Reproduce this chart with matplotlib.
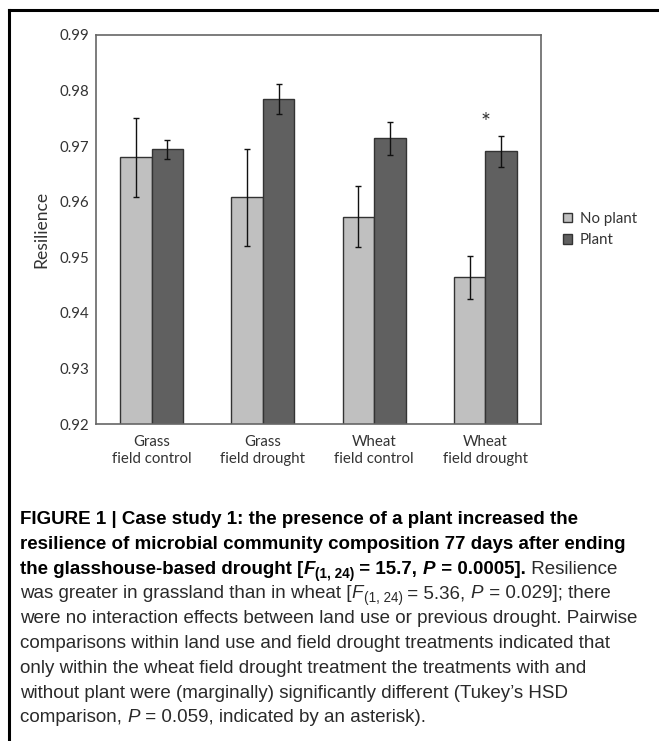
import matplotlib
matplotlib.use("Agg")
import matplotlib.pyplot as plt
import numpy as np
from matplotlib.lines import Line2D

# data
groups = ["Grass\nfield control", "Grass\nfield drought", "Wheat\nfield control", "Wheat\nfield drought"]
no_plant = [0.9680, 0.9608, 0.9573, 0.9464]
no_plant_err = [0.0071, 0.0087, 0.0055, 0.0039]
plant = [0.9694, 0.9784, 0.9714, 0.9691]
plant_err = [0.0017, 0.0027, 0.0030, 0.0028]
yticks = [0.92, 0.93, 0.94, 0.95, 0.96, 0.97, 0.98, 0.99]
star_group = 3
star_y = 0.9742

chart_font = "Lato"
cap_font = "Liberation Sans"

fig = plt.figure(figsize=(6.59, 7.41), dpi=100)
ax = fig.add_axes([0.1457, 0.4278, 0.6752, 0.525])

x = np.arange(len(groups))
w = 0.283
ekw = dict(ecolor="#111111", elinewidth=1, capsize=2.5, capthick=1)
ax.bar(x - w/2, no_plant, w, yerr=no_plant_err, color="#c0c0c0", edgecolor="#333333",
       linewidth=1, label="No plant", error_kw=ekw)
ax.bar(x + w/2, plant, w, yerr=plant_err, color="#606060", edgecolor="#333333",
       linewidth=1, label="Plant", error_kw=ekw)
ax.text(star_group, star_y, "*", ha="center", va="center", fontsize=17, family=chart_font, color="#333333")

ax.set_xlim(-0.5, 3.5)
ax.set_ylim(0.92, 0.99)
ax.set_yticks(yticks)
ax.set_yticklabels(["%.2f" % t for t in yticks], family=chart_font, fontsize=10.8, color="#333333")
ax.set_xticks(x)
ax.set_xticklabels(groups, family=chart_font, fontsize=10.8, color="#333333", linespacing=1.25)
ax.tick_params(length=0)
ax.tick_params(axis="y", pad=5)
ax.tick_params(axis="x", pad=8)
for s in ax.spines.values():
    s.set_color("#666666")
    s.set_linewidth(1.2)
ax.set_ylabel("Resilience", family=chart_font, fontsize=12.6, color="#333333", labelpad=7)

leg = ax.legend(loc="center left", bbox_to_anchor=(1.02, 0.5), frameon=False,
                prop=dict(family=chart_font, size=10.8), handlelength=0.6, handleheight=0.6,
                handletextpad=0.5, labelspacing=0.5)
for t in leg.get_texts():
    t.set_color("#333333")

# frame of the figure panel (only left and top are inside the picture)
fig.add_artist(Line2D([9/659, 9/659], [0, 1 - 10/741], color="black", lw=2.2, transform=fig.transFigure))
fig.add_artist(Line2D([9/659, 1], [1 - 10/741, 1 - 10/741], color="black", lw=2.2, transform=fig.transFigure))

# caption, drawn run by run so bold / italic / subscript can sit on one line
renderer = fig.canvas.get_renderer()
fs = 13.5

def runs_line(y_px, runs):
    xp = 20
    for txt, bold, ital, sub in runs:
        size = fs * 0.72 if sub else fs
        yy = y_px + (4 if sub else 0)
        t = fig.text(xp / 659, 1 - yy / 741, txt, family=cap_font, fontsize=size,
                     weight="bold" if bold else "normal", style="italic" if ital else "normal",
                     color="black" if bold else "#2a2a2a", va="baseline", ha="left")
        bb = t.get_window_extent(renderer)
        xp += bb.width + (0.5 if ital else 0)

cap_lines = [
    [("FIGURE 1 | Case study 1: the presence of a plant increased the", True, False, False)],
    [("resilience of microbial community composition 77 days after ending", True, False, False)],
    [("the glasshouse-based drought [", True, False, False), ("F", True, True, False),
     ("(1, 24)", True, False, True), (" = 15.7, ", True, False, False), ("P", True, True, False),
     (" = 0.0005].", True, False, False), (" Resilience", False, False, False)],
    [("was greater in grassland than in wheat [", False, False, False), ("F", False, True, False),
     ("(1, 24)", False, False, True), (" = 5.36, ", False, False, False), ("P", False, True, False),
     (" = 0.029]; there", False, False, False)],
    [("were no interaction effects between land use or previous drought. Pairwise", False, False, False)],
    [("comparisons within land use and field drought treatments indicated that", False, False, False)],
    [("only within the wheat field drought treatment the treatments with and", False, False, False)],
    [("without plant were (marginally) significantly different (Tukey\u2019s HSD", False, False, False)],
    [("comparison, ", False, False, False), ("P", False, True, False),
     (" = 0.059, indicated by an asterisk).", False, False, False)],
]
y0 = 524
for i, ln in enumerate(cap_lines):
    runs_line(y0 + i * 24.8, ln)

fig.savefig("out.png", dpi=100)
